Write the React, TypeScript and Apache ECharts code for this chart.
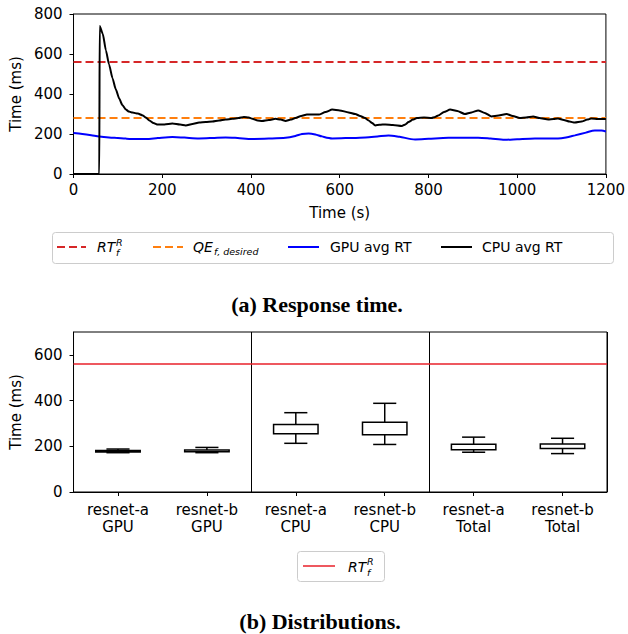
import React, { useEffect, useRef } from "react";
import * as echarts from "echarts";

// ---------- Data: (a) Response time ----------
const RT_F_R = 560; // RT_f^R threshold (ms)
const QE_F_DESIRED = 280; // QE_{f,desired} (ms)
const TIME_RANGE = [0, 1200];

const CPU_T = [0, 58, 59, 66, 73, 80, 88, 95, 103, 110, 118, 125, 133, 145, 156, 163, 171, 180, 190, 205, 223, 240, 253, 268, 283, 298, 313, 328, 343, 358, 372, 384, 395, 403, 415, 425, 440, 455, 467, 478, 490, 500, 513, 526, 540, 553, 568, 583, 600, 620, 635, 646, 657, 665, 673, 680, 690, 703, 720, 740, 748, 755, 765, 774, 790, 807, 815, 822, 835, 849, 865, 882, 897, 912, 927, 942, 958, 976, 990, 1006, 1020, 1036, 1050, 1070, 1082, 1092, 1105, 1118, 1130, 1145, 1158, 1167, 1182, 1200];
const CPU_RT = [0, 0, 740, 700, 618, 548, 478, 425, 377, 345, 322, 312, 307, 302, 293, 282, 268, 255, 247, 248, 252, 247, 243, 250, 257, 260, 262, 267, 272, 276, 280, 285, 282, 276, 268, 265, 270, 276, 272, 265, 272, 280, 290, 297, 298, 297, 310, 322, 318, 308, 300, 290, 280, 268, 255, 243, 246, 248, 245, 240, 248, 260, 272, 280, 282, 280, 285, 293, 310, 322, 315, 300, 308, 318, 305, 288, 292, 300, 290, 280, 283, 288, 280, 272, 275, 277, 270, 262, 257, 262, 272, 277, 275, 275];

const GPU_T = [0, 20, 40, 58, 80, 100, 118, 140, 163, 190, 223, 250, 283, 313, 343, 370, 403, 440, 478, 500, 515, 530, 545, 560, 583, 620, 658, 685, 710, 735, 770, 800, 845, 880, 912, 940, 972, 1000, 1040, 1092, 1110, 1130, 1155, 1175, 1190, 1200];
const GPU_RT = [205, 200, 194, 188, 183, 180, 177, 175, 175, 180, 185, 182, 178, 180, 183, 180, 175, 177, 181, 190, 200, 203, 198, 188, 178, 180, 183, 188, 193, 186, 173, 176, 181, 181, 181, 177, 171, 174, 178, 177, 182, 193, 207, 218, 217, 213];

// ---------- Data: (b) Distributions ----------
const BOX_CATEGORIES = ["resnet-a\nGPU", "resnet-b\nGPU", "resnet-a\nCPU", "resnet-b\nCPU", "resnet-a\nTotal", "resnet-b\nTotal"];
const BOX_MIN = [172, 172, 213, 208, 174, 168];
const BOX_Q1 = [175, 176, 255, 251, 185, 190];
const BOX_Q3 = [182, 184, 295, 305, 209, 210];
const BOX_MAX = [188, 195, 347, 388, 240, 235];

const AXIS_FONT = "DejaVu Sans";
const BLACK = "#000000";

function legendMath(x: number, y: number, main: string, mainWidth: number, sup: string | null, sub: string, supDy: number, subDy: number) {
  const els: any[] = [
    { type: "text", x, y, style: { text: main, font: `italic 14px '${AXIS_FONT}'`, fill: BLACK, textAlign: "left", textVerticalAlign: "middle" } },
    { type: "text", x: x + mainWidth + 0.5, y: y + subDy, style: { text: sub, font: `italic 9.5px '${AXIS_FONT}'`, fill: BLACK, textAlign: "left", textVerticalAlign: "middle" } },
  ];
  if (sup) {
    els.push({ type: "text", x: x + mainWidth + 0.5, y: y + supDy, style: { text: sup, font: `italic 9.5px '${AXIS_FONT}'`, fill: BLACK, textAlign: "left", textVerticalAlign: "middle" } });
  }
  return els;
}

export default function App() {
  const ref = useRef<HTMLDivElement>(null);

  useEffect(() => {
    if (!ref.current) return;
    const chart = echarts.init(ref.current, null, { renderer: "svg" });

    const cpuData = CPU_T.map((t, i) => [t, CPU_RT[i]]);
    const gpuData = GPU_T.map((t, i) => [t, GPU_RT[i]]);
    const boxData = BOX_CATEGORIES.map((_, i) => [i, BOX_MIN[i], BOX_Q1[i], BOX_Q3[i], BOX_MAX[i]]);

    const axisLabelStyle = { color: BLACK, fontFamily: AXIS_FONT, fontSize: 15 };
    const axisLineStyle = { show: true, lineStyle: { color: BLACK, width: 1 } };
    const axisTickStyle = { show: true, inside: false, length: 4, lineStyle: { color: BLACK, width: 1 } };
    const nameStyle = { color: BLACK, fontFamily: AXIS_FONT, fontSize: 15 };
    const plain = (v: number) => String(v);

    const option: any = {
      animation: false,
      backgroundColor: "#ffffff",
      grid: [
        { left: 73, right: 21, top: 14, bottom: 460, show: true, borderColor: BLACK, borderWidth: 1, backgroundColor: "transparent" },
        { left: 73, right: 21, top: 332, bottom: 142, show: true, borderColor: BLACK, borderWidth: 1, backgroundColor: "transparent" },
      ],
      xAxis: [
        {
          gridIndex: 0,
          type: "value",
          min: TIME_RANGE[0],
          max: TIME_RANGE[1],
          interval: 200,
          name: "Time (s)",
          nameLocation: "middle",
          nameGap: 31,
          nameTextStyle: nameStyle,
          axisLine: axisLineStyle,
          axisTick: axisTickStyle,
          axisLabel: { ...axisLabelStyle, margin: 8, formatter: plain },
          splitLine: { show: false },
        },
        {
          gridIndex: 1,
          type: "category",
          data: BOX_CATEGORIES,
          boundaryGap: true,
          axisLine: axisLineStyle,
          axisTick: { ...axisTickStyle, alignWithLabel: true },
          axisLabel: { ...axisLabelStyle, margin: 9, lineHeight: 17, interval: 0 },
          splitLine: {
            show: true,
            interval: (index: number) => index === 2 || index === 4,
            lineStyle: { color: BLACK, width: 1 },
          },
        },
      ],
      yAxis: [
        {
          gridIndex: 0,
          type: "value",
          min: 0,
          max: 800,
          interval: 200,
          name: "Time (ms)",
          nameLocation: "middle",
          nameGap: 46,
          nameTextStyle: nameStyle,
          axisLine: axisLineStyle,
          axisTick: axisTickStyle,
          axisLabel: { ...axisLabelStyle, margin: 11, formatter: plain },
          splitLine: { show: false },
        },
        {
          gridIndex: 1,
          type: "value",
          min: 0,
          max: 700,
          interval: 200,
          name: "Time (ms)",
          nameLocation: "middle",
          nameGap: 46,
          nameTextStyle: nameStyle,
          axisLine: axisLineStyle,
          axisTick: axisTickStyle,
          axisLabel: { ...axisLabelStyle, margin: 11, showMaxLabel: false, formatter: plain },
          splitLine: { show: false },
        },
      ],
      series: [
        {
          name: "RT_f^R",
          type: "line",
          xAxisIndex: 0,
          yAxisIndex: 0,
          data: [[TIME_RANGE[0], RT_F_R], [TIME_RANGE[1], RT_F_R]],
          showSymbol: false,
          lineStyle: { color: "#d62728", width: 2, type: [8, 4] },
          z: 3,
        },
        {
          name: "QE_f,desired",
          type: "line",
          xAxisIndex: 0,
          yAxisIndex: 0,
          data: [[TIME_RANGE[0], QE_F_DESIRED], [TIME_RANGE[1], QE_F_DESIRED]],
          showSymbol: false,
          lineStyle: { color: "#ff7f0e", width: 2, type: [8, 4] },
          z: 3,
        },
        {
          name: "GPU avg RT",
          type: "line",
          xAxisIndex: 0,
          yAxisIndex: 0,
          data: gpuData,
          smooth: 0.3,
          showSymbol: false,
          lineStyle: { color: "#0000ff", width: 2 },
          z: 4,
        },
        {
          name: "CPU avg RT",
          type: "line",
          xAxisIndex: 0,
          yAxisIndex: 0,
          data: cpuData,
          smooth: 0.2,
          smoothMonotone: "x",
          showSymbol: false,
          lineStyle: { color: BLACK, width: 2 },
          z: 5,
        },
        {
          name: "boxes",
          type: "custom",
          xAxisIndex: 1,
          yAxisIndex: 1,
          data: boxData,
          encode: { x: 0, y: [1, 2, 3, 4] },
          renderItem: (params: any, api: any) => {
            const idx = api.value(0);
            const pMin = api.coord([idx, api.value(1)]);
            const pQ1 = api.coord([idx, api.value(2)]);
            const pQ3 = api.coord([idx, api.value(3)]);
            const pMax = api.coord([idx, api.value(4)]);
            const band = api.size([1, 0])[0];
            const hw = band * 0.25;
            const cw = band * 0.13;
            const cx = pQ1[0];
            const st = { stroke: BLACK, lineWidth: 1.5, fill: "none" };
            return {
              type: "group",
              children: [
                { type: "line", shape: { x1: cx, y1: pQ3[1], x2: cx, y2: pMax[1] }, style: st },
                { type: "line", shape: { x1: cx, y1: pQ1[1], x2: cx, y2: pMin[1] }, style: st },
                { type: "line", shape: { x1: cx - cw, y1: pMax[1], x2: cx + cw, y2: pMax[1] }, style: st },
                { type: "line", shape: { x1: cx - cw, y1: pMin[1], x2: cx + cw, y2: pMin[1] }, style: st },
                { type: "rect", shape: { x: cx - hw, y: pQ3[1], width: 2 * hw, height: pQ1[1] - pQ3[1] }, style: { stroke: BLACK, lineWidth: 1.5, fill: "#ffffff" } },
              ],
            };
          },
          z: 4,
        },
        {
          name: "RT_f^R (b)",
          type: "line",
          xAxisIndex: 1,
          yAxisIndex: 1,
          data: [],
          markLine: {
            silent: true,
            symbol: "none",
            label: { show: false },
            lineStyle: { color: "#e8212a", width: 1.5, type: "solid" },
            data: [{ yAxis: RT_F_R }],
          },
          z: 3,
        },
      ],
      graphic: [
        // Legend (a)
        { type: "rect", shape: { x: 52.5, y: 232.5, width: 561, height: 31, r: 3 }, style: { fill: "#ffffff", stroke: "#cccccc", lineWidth: 1 } },
        { type: "line", shape: { x1: 57, y1: 247, x2: 86, y2: 247 }, style: { stroke: "#d62728", lineWidth: 2, lineDash: [8, 4] } },
        ...legendMath(97, 247, "RT", 18.5, "R", "f", -4.5, 5.5),
        { type: "line", shape: { x1: 153, y1: 247, x2: 183, y2: 247 }, style: { stroke: "#ff7f0e", lineWidth: 2, lineDash: [8, 4] } },
        ...legendMath(193, 247, "QE", 20.5, null, "f, desired", 0, 4.5),
        { type: "line", shape: { x1: 288, y1: 247, x2: 319, y2: 247 }, style: { stroke: "#0000ff", lineWidth: 2 } },
        { type: "text", x: 330, y: 247, style: { text: "GPU avg RT", font: `14px '${AXIS_FONT}'`, fill: BLACK, textAlign: "left", textVerticalAlign: "middle" } },
        { type: "line", shape: { x1: 441, y1: 247, x2: 472, y2: 247 }, style: { stroke: BLACK, lineWidth: 2 } },
        { type: "text", x: 482, y: 247, style: { text: "CPU avg RT", font: `14px '${AXIS_FONT}'`, fill: BLACK, textAlign: "left", textVerticalAlign: "middle" } },
        // Caption (a)
        { type: "text", x: 317, y: 304, style: { text: "(a) Response time.", font: "bold 22px 'Liberation Serif'", fill: BLACK, textAlign: "center", textVerticalAlign: "middle" } },
        // Legend (b)
        { type: "rect", shape: { x: 297.5, y: 551.5, width: 87, height: 30, r: 3 }, style: { fill: "#ffffff", stroke: "#cccccc", lineWidth: 1 } },
        { type: "line", shape: { x1: 303, y1: 566, x2: 335, y2: 566 }, style: { stroke: "#e8212a", lineWidth: 1.5 } },
        ...legendMath(348, 566.5, "RT", 18.5, "R", "f", -5, 5.5),
        // Caption (b)
        { type: "text", x: 320, y: 621, style: { text: "(b) Distributions.", font: "bold 22px 'Liberation Serif'", fill: BLACK, textAlign: "center", textVerticalAlign: "middle" } },
      ],
    };

    chart.setOption(option);
    return () => chart.dispose();
  }, []);

  return <div ref={ref} style={{ position: "absolute", left: 0, top: 0, width: 628, height: 634 }} />;
}
